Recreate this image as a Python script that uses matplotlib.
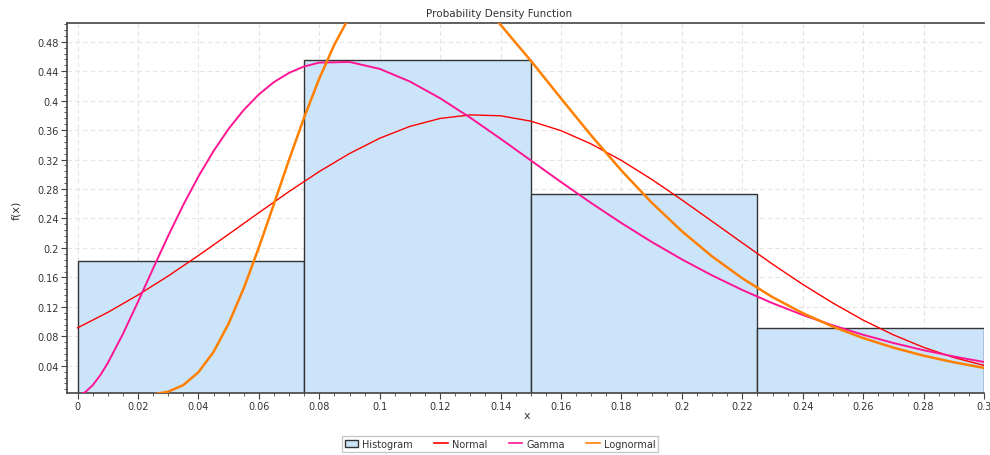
import matplotlib
matplotlib.use("Agg")
import matplotlib.pyplot as plt
from matplotlib.ticker import MultipleLocator, AutoMinorLocator, FuncFormatter
from matplotlib.patches import Patch
from matplotlib.lines import Line2D

# histogram (relative frequencies per bin)
bin_edges = [0.0, 0.075, 0.15, 0.225, 0.3]
bin_heights = [0.182, 0.455, 0.273, 0.091]

# fitted curves
normal_x = [0.0, 0.01, 0.02, 0.03, 0.04, 0.05, 0.06, 0.07, 0.08, 0.09, 0.10,
            0.11, 0.12, 0.13, 0.14, 0.15, 0.16, 0.17, 0.18, 0.19, 0.20,
            0.21, 0.22, 0.23, 0.24, 0.25, 0.26, 0.27, 0.28, 0.29, 0.30]
normal_y = [0.0915, 0.1125, 0.1361, 0.1619, 0.1897, 0.2186, 0.2479, 0.2766, 0.3038, 0.3282, 0.3490,
            0.3651, 0.3759, 0.3807, 0.3795, 0.3722, 0.3593, 0.3412, 0.3188, 0.2932, 0.2653,
            0.2362, 0.2069, 0.1780, 0.1505, 0.1252, 0.1020, 0.0820, 0.0650, 0.0512, 0.0405]

gamma_x = [0.0, 0.0025, 0.005, 0.0075, 0.01, 0.015, 0.02, 0.025, 0.03, 0.035, 0.04,
           0.045, 0.05, 0.055, 0.06, 0.065, 0.07, 0.075, 0.08, 0.09, 0.10,
           0.11, 0.12, 0.13, 0.14, 0.15, 0.16, 0.17, 0.18, 0.19, 0.20,
           0.21, 0.22, 0.23, 0.24, 0.25, 0.26, 0.27, 0.28, 0.29, 0.30]
gamma_y = [0.0, 0.0040, 0.0135, 0.0271, 0.0437, 0.0831, 0.1269, 0.1721, 0.2165, 0.2586, 0.2971,
           0.3316, 0.3618, 0.3874, 0.4085, 0.4253, 0.4378, 0.4465, 0.4517, 0.4526, 0.4432,
           0.4260, 0.4033, 0.3768, 0.3483, 0.3189, 0.2895, 0.2610, 0.2338, 0.2082, 0.1845,
           0.1627, 0.1429, 0.1250, 0.1090, 0.0948, 0.0821, 0.0709, 0.0611, 0.0526, 0.0451]

lognormal_x = [0.025, 0.03, 0.035, 0.04, 0.045, 0.05, 0.055, 0.06, 0.065, 0.07, 0.075,
               0.08, 0.085, 0.09, 0.10, 0.11, 0.12, 0.13, 0.14, 0.15, 0.16,
               0.17, 0.18, 0.19, 0.20, 0.21, 0.22, 0.23, 0.24, 0.25, 0.26,
               0.27, 0.28, 0.29, 0.30]
lognormal_y = [0.0011, 0.0048, 0.0138, 0.0312, 0.0588, 0.0973, 0.1453, 0.2006, 0.2598, 0.3198, 0.3774,
               0.4301, 0.4762, 0.5143, 0.5650, 0.5831, 0.5740, 0.5450, 0.5031, 0.4543, 0.4031,
               0.3527, 0.3051, 0.2616, 0.2227, 0.1885, 0.1588, 0.1332, 0.1115, 0.0931, 0.0776,
               0.0646, 0.0537, 0.0447, 0.0371]

TEXT_COLOR = "#333333"


def fmt_tick(v, pos):
    return "%g" % round(v, 4)


def main():
    fig = plt.figure(figsize=(9.9, 4.56), dpi=100)
    ax = fig.add_axes([67 / 990, 62 / 456, 917 / 990, 370 / 456])

    widths = [b - a for a, b in zip(bin_edges[:-1], bin_edges[1:])]
    ax.bar(bin_edges[:-1], bin_heights, width=widths, align="edge",
           color="#CCE4FA", edgecolor="#333333", linewidth=1.0, zorder=2)

    ax.plot(normal_x, normal_y, color="#FF0000", lw=1.0, zorder=3)
    ax.plot(gamma_x, gamma_y, color="#FF1493", lw=1.4, zorder=3)
    ax.plot(lognormal_x, lognormal_y, color="#FF8000", lw=1.8, zorder=4)

    ax.set_xlim(-0.0035, 0.3)
    ax.set_ylim(0.003, 0.5055)

    ax.xaxis.set_major_locator(MultipleLocator(0.02))
    ax.yaxis.set_major_locator(MultipleLocator(0.04))
    ax.xaxis.set_minor_locator(AutoMinorLocator(4))
    ax.yaxis.set_minor_locator(AutoMinorLocator(5))
    ax.xaxis.set_major_formatter(FuncFormatter(fmt_tick))
    ax.yaxis.set_major_formatter(FuncFormatter(fmt_tick))

    ax.tick_params(which="major", length=4, width=0.8, colors="#444444",
                   labelsize=7, labelcolor=TEXT_COLOR, pad=2)
    ax.tick_params(which="minor", length=2, width=0.6, colors="#444444")

    ax.set_axisbelow(True)
    ax.grid(True, which="major", color="#E4E4E4", linestyle=(0, (4, 3)), linewidth=0.8)

    for side in ("left", "bottom", "top"):
        ax.spines[side].set_color("#444444")
        ax.spines[side].set_linewidth(1.2)
    ax.spines["right"].set_visible(False)

    fig.text(0.504, 0.969, "Probability Density Function", ha="center", va="center",
             fontsize=7.5, color=TEXT_COLOR)
    fig.text(527 / 990, 1 - 416 / 456, "x", ha="center", va="center", fontsize=8, color=TEXT_COLOR)
    fig.text(16 / 990, 1 - 210 / 456, "f(x)", ha="center", va="center", rotation=90,
             fontsize=8, color=TEXT_COLOR)

    handles = [
        Patch(facecolor="#CCE4FA", edgecolor="#333333", linewidth=1.0),
        Line2D([], [], color="#FF0000", lw=1.2),
        Line2D([], [], color="#FF1493", lw=1.2),
        Line2D([], [], color="#FF8000", lw=1.2),
    ]
    labels = ["Histogram", "Normal", "Gamma", "Lognormal"]
    leg = fig.legend(handles, labels, loc="center", bbox_to_anchor=(500 / 990, 1 - 445 / 456),
                     ncol=4, fontsize=7, frameon=True, fancybox=False, edgecolor="#BBBBBB",
                     handlelength=1.4, handleheight=0.8, handletextpad=0.4, columnspacing=2.2,
                     borderpad=0.3, borderaxespad=0)
    leg.get_frame().set_linewidth(1.0)
    for t in leg.get_texts():
        t.set_color(TEXT_COLOR)

    fig.savefig("out.png", dpi=100)


if __name__ == "__main__":
    main()
